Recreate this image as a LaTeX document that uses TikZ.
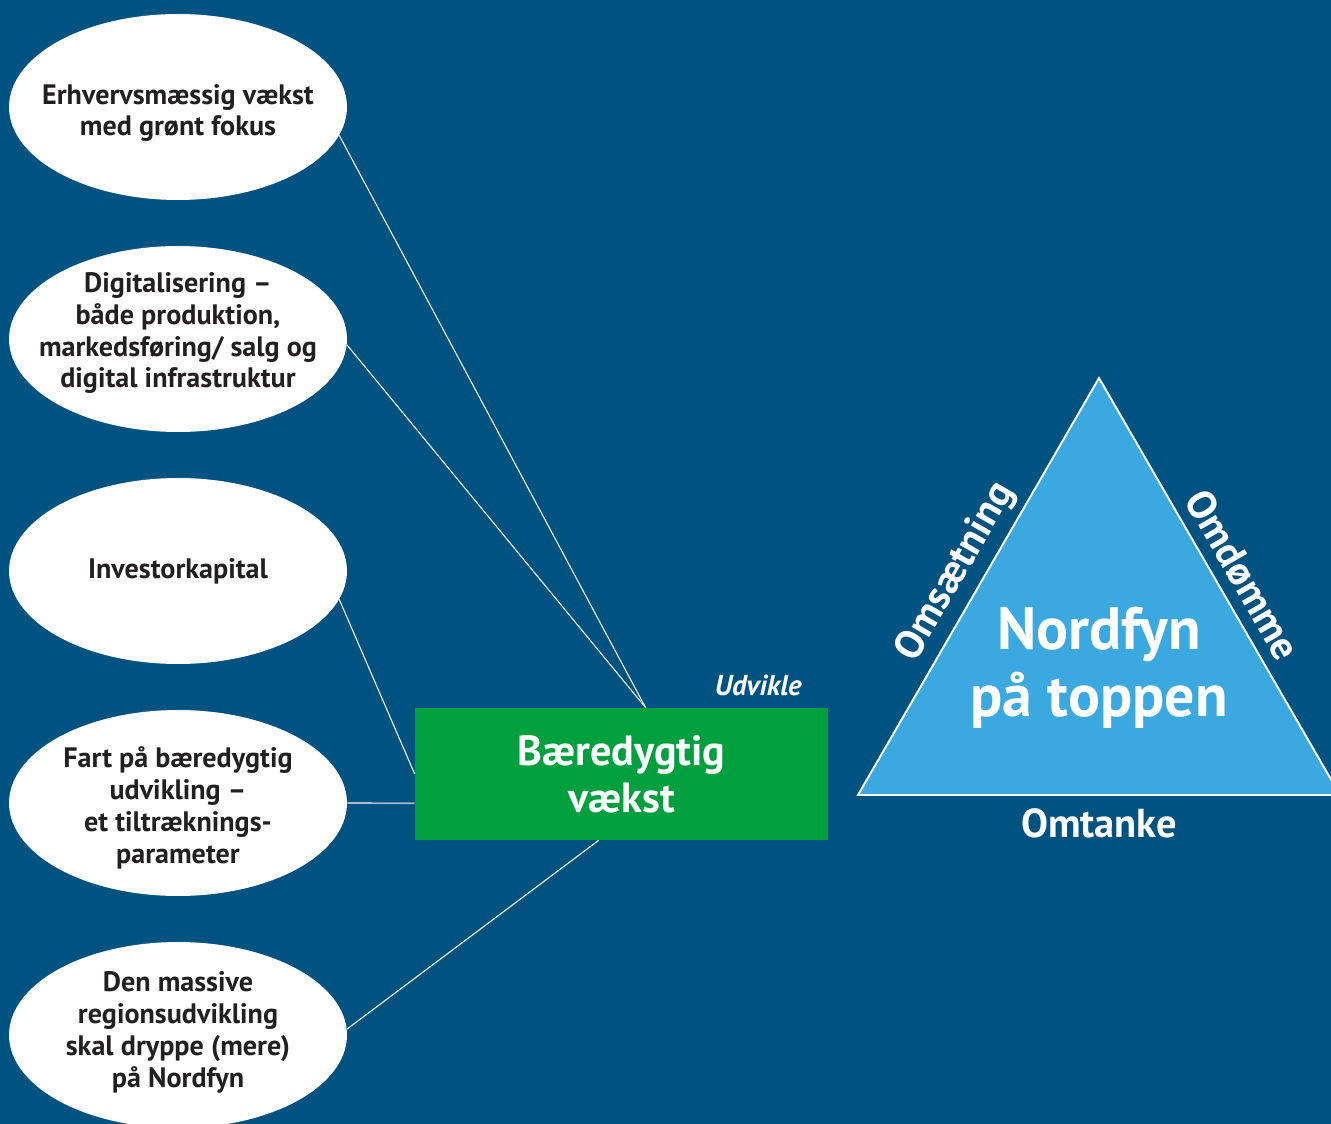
\documentclass[tikz,border=0pt]{standalone}
\usepackage{fontspec}
\setmainfont{PT Sans}
\usetikzlibrary{shapes.geometric}
\definecolor{navy}{RGB}{0,82,128}
\definecolor{boxgreen}{RGB}{0,160,62}
\definecolor{skyblue}{RGB}{59,169,224}
\definecolor{ink}{RGB}{35,31,32}
\tikzset{
  bubble/.style={ellipse,fill=white,inner sep=0pt,minimum width=6.76cm,minimum height=3.72cm},
  bubbletext/.style={text=ink,align=center,font=\bfseries\fontsize{16}{18.2}\selectfont,inner sep=0pt},
  link/.style={white,line width=0.6pt},
  sidetext/.style={text=white,font=\bfseries\fontsize{23}{26}\selectfont,inner sep=0pt}
}
\begin{document}
\begin{tikzpicture}[x=0.02cm,y=-0.02cm]
  \clip (0,0) rectangle (1331,1124);
  \fill[navy] (0,0) rectangle (1331,1124);
  \node[bubble,label={[bubbletext,yshift=-0.12cm]center:Erhvervsmæssig vækst\\med grønt fokus}] (e1) at (178,107) {};
  \node[bubble,label={[bubbletext,yshift=0.12cm]center:Digitalisering –\\både produktion,\\markedsføring/ salg og\\digital infrastruktur}] (e2) at (178,339) {};
  \node[bubble,label={[bubbletext]center:Investorkapital}] (e3) at (178,571) {};
  \node[bubble,label={[bubbletext,yshift=-0.1cm]center:Fart på bæredygtig\\udvikling –\\et tiltræknings-\\parameter}] (e4) at (178,803) {};
  \node[bubble,label={[bubbletext,yshift=0.06cm]center:Den massive\\regionsudvikling\\skal dryppe (mere)\\på Nordfyn}] (e5) at (178,1035) {};
  \node[fill=boxgreen,minimum width=8.26cm,minimum height=2.64cm,inner sep=0pt,text=white,align=center,
    font=\bfseries\fontsize{24}{26.7}\selectfont] (bv) at (621.5,774) {Bæredygtig\\vækst};
  \node[anchor=base east,text=white,inner sep=0pt,font=\bfseries\itshape\fontsize{16.4}{18}\selectfont] (ud) at (802,695) {Udvikle};
  \foreach \a/\b in {e1.-10/bv.70,e2.-2/bv.70,e3.-10/bv.west,e4.east/bv.188,e5.2/bv.251}
    \draw[link] (\a) -- (\b);
  \coordinate (top) at (1099,378);
  \coordinate (bl) at (858,795);
  \coordinate (br) at (1340,795);
  \draw[white,line width=1.1pt,fill=skyblue] (top) -- (bl) -- (br) -- cycle;
  \node[text=white,align=center,inner sep=0pt,font=\bfseries\fontsize{34}{38}\selectfont] (nf) at (1099,668) {Nordfyn\\på toppen};
  \node[sidetext,rotate=60] (oms) at (956,572) {Omsætning};
  \node[sidetext,rotate=-60] (omd) at (1243,575) {Omdømme};
  \node[sidetext,anchor=base] (omt) at (1099,837) {Omtanke};
\end{tikzpicture}
\end{document}
